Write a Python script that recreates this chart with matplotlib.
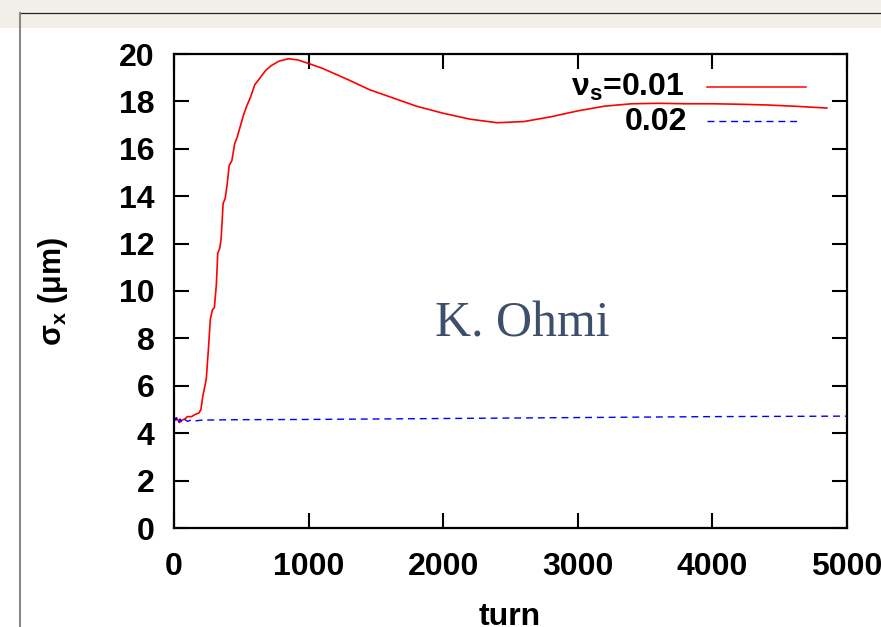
import matplotlib
matplotlib.use('Agg')
import matplotlib.pyplot as plt
from matplotlib.patches import Rectangle
from matplotlib.lines import Line2D

plt.rcParams['font.family'] = ['Liberation Sans', 'DejaVu Sans']
plt.rcParams['font.weight'] = 'bold'
plt.rcParams['mathtext.fontset'] = 'custom'
plt.rcParams['mathtext.rm'] = 'Liberation Sans:bold'
plt.rcParams['mathtext.it'] = 'Liberation Sans:italic:bold'

# sigma_x vs turn, nu_s = 0.01 (red) and 0.02 (blue)
turn_01 = [0, 20, 40, 60, 80, 100, 130, 160, 185, 200, 215, 230, 240, 255, 270, 285,
           300, 315, 325, 340, 350, 365, 380, 395, 410, 430, 450, 470, 490, 515, 540,
           570, 600, 640, 680, 720, 780, 850, 920, 1000, 1100, 1200, 1300, 1450, 1600,
           1800, 2000, 2200, 2400, 2600, 2800, 3000, 3200, 3400, 3600, 3800, 4000,
           4200, 4400, 4600, 4850]
sigma_01 = [4.5, 4.65, 4.45, 4.55, 4.6, 4.7, 4.7, 4.8, 4.85, 5.0, 5.6, 6.0, 6.3, 7.5,
            8.8, 9.2, 9.3, 10.3, 11.6, 11.8, 12.2, 13.7, 13.9, 14.5, 15.3, 15.5, 16.2,
            16.5, 16.9, 17.4, 17.8, 18.2, 18.7, 19.0, 19.3, 19.5, 19.7, 19.8, 19.75,
            19.6, 19.4, 19.15, 18.9, 18.5, 18.2, 17.8, 17.5, 17.25, 17.1, 17.15, 17.35,
            17.6, 17.8, 17.9, 17.92, 17.9, 17.9, 17.88, 17.85, 17.8, 17.72]

turn_02 = [0, 15, 30, 45, 60, 80, 100, 130, 160, 200, 300, 500, 1000, 1500, 2000,
           2500, 3000, 3500, 4000, 4500, 5000]
sigma_02 = [4.5, 4.65, 4.4, 4.6, 4.45, 4.58, 4.5, 4.56, 4.52, 4.55, 4.56, 4.57, 4.58,
            4.6, 4.62, 4.64, 4.66, 4.68, 4.7, 4.71, 4.72]

xticks = [0, 1000, 2000, 3000, 4000, 5000]
yticks = list(range(0, 21, 2))
legend_labels = [r'$\mathregular{\nu_s}$=0.01', '0.02']

W, H = 881, 627
fig = plt.figure(figsize=(W / 100, H / 100), dpi=100)
fig.patch.set_facecolor('white')

# slide decoration
fig.patches.append(Rectangle((0, 1 - 28 / H), 1, 28 / H, transform=fig.transFigure,
                             facecolor='#f2efe9', edgecolor='none', zorder=0))
fig.lines.append(Line2D([20 / W, 1], [1 - 13 / H, 1 - 13 / H], transform=fig.transFigure,
                        color='#222222', lw=0.9))
fig.lines.append(Line2D([20 / W, 20 / W], [0, 1 - 13 / H], transform=fig.transFigure,
                        color='#888888', lw=1.5))

ax = fig.add_axes([174 / W, 99 / H, 673 / W, 474 / H])
ax.plot(turn_01, sigma_01, color='#ff0000', lw=1.2)
ax.plot(turn_02, sigma_02, color='#0000ff', lw=1.0, linestyle=(0, (5, 3.5)))

ax.set_xlim(0, 5000)
ax.set_ylim(0, 20)
ax.set_xticks(xticks)
ax.set_yticks(yticks)
ax.tick_params(direction='in', length=11, width=1.5, labelsize=23,
               top=True, right=True)
ax.tick_params(axis='x', pad=17)
ax.tick_params(axis='y', pad=14)
for s in ax.spines.values():
    s.set_linewidth(1.6)

# legend drawn by hand (labels right aligned, like gnuplot)
ax.text(0.759, 0.930, legend_labels[0], transform=ax.transAxes, ha='right',
        va='center', fontsize=23)
ax.text(0.762, 0.857, legend_labels[1], transform=ax.transAxes, ha='right',
        va='center', fontsize=23)
ax.plot([0.792, 0.939], [0.930, 0.930], transform=ax.transAxes, color='#ff0000', lw=1.1)
ax.plot([0.792, 0.930], [0.859, 0.859], transform=ax.transAxes, color='#0000ff', lw=1.0,
        linestyle=(0, (5, 3.5)))

ax.text(0.518, 0.43, 'K. Ohmi', transform=ax.transAxes, ha='center', va='center',
        fontsize=36, family='Liberation Serif', weight='normal', color='#3d4f6b')

fig.text(510 / W, 2 / H, 'turn', ha='center', va='baseline', fontsize=23)
fig.text(53 / W, 1 - 292 / H, r'$\mathregular{\sigma_x}$ ($\mathregular{\mu}$m)',
         rotation=90, ha='center', va='center', fontsize=22)

fig.savefig('out.png', dpi=100)
